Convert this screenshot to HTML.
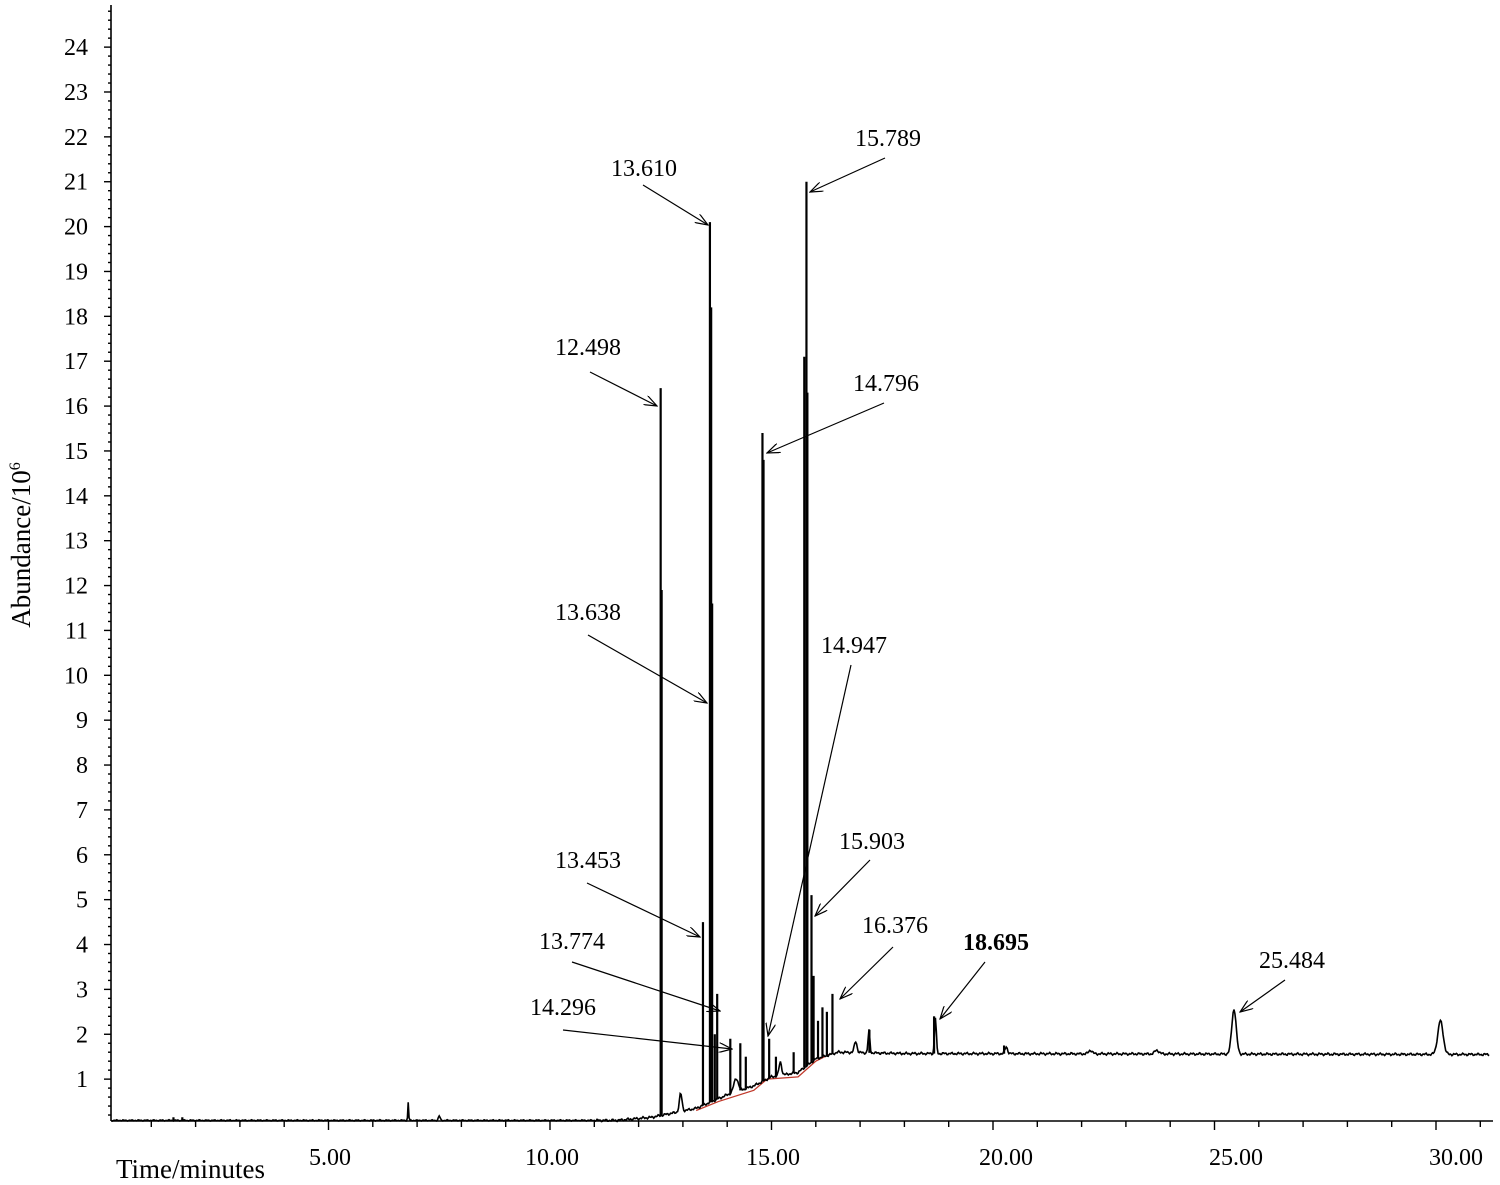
<!DOCTYPE html>
<html><head><meta charset="utf-8"><style>
html,body{margin:0;padding:0;background:#fff;}
svg{display:block;font-family:"Liberation Serif",serif;}
</style></head><body>
<svg id="s" width="1500" height="1185" viewBox="0 0 1500 1185" xmlns="http://www.w3.org/2000/svg">
<defs><marker id="a" markerWidth="14" markerHeight="10" refX="13" refY="5" orient="auto" markerUnits="userSpaceOnUse"><path d="M0,0 L13,5 L0,10" fill="none" stroke="#000" stroke-width="1.2"/></marker></defs>
<g id="axes" stroke="#000" stroke-width="1.6" fill="none">
<line x1="111" y1="5" x2="111" y2="1121"/>
<line x1="111" y1="1121" x2="1493" y2="1121"/>
</g>
<g id="ticks" stroke="#000" stroke-width="1.4"></g>
<g id="ylab" font-size="24" text-anchor="end"></g>
<g font-size="24" text-anchor="middle">
<text x="330" y="1165">5.00</text><text x="552" y="1165">10.00</text><text x="773" y="1165">15.00</text>
<text x="1006" y="1165">20.00</text><text x="1236" y="1165">25.00</text><text x="1456" y="1165">30.00</text>
</g>
<text x="116" y="1178" font-size="27">Time/minutes</text>
<text transform="translate(30,545) rotate(-90)" font-size="27" text-anchor="middle">Abundance/10<tspan font-size="16" dy="-10">6</tspan></text>
<path id="red" fill="none" stroke="#c0392b" stroke-width="1.3"/>
<path id="tr" fill="none" stroke="#000" stroke-width="1.6"/>
<g id="pk" stroke="#000" stroke-width="2.2"></g>
<g font-size="24" text-anchor="middle">
<text x="888" y="146">15.789</text><text x="644" y="176">13.610</text><text x="588" y="355">12.498</text>
<text x="886" y="391">14.796</text><text x="588" y="620">13.638</text><text x="854" y="653">14.947</text>
<text x="872" y="849">15.903</text><text x="588" y="868">13.453</text><text x="572" y="949">13.774</text>
<text x="895" y="933">16.376</text><text x="996" y="950" font-weight="bold">18.695</text><text x="563" y="1015">14.296</text>
<text x="1292" y="968">25.484</text>
</g>
<g stroke="#000" stroke-width="1.2" marker-end="url(#a)">
<line x1="885" y1="158" x2="810" y2="192"/><line x1="643" y1="185" x2="708" y2="225"/>
<line x1="590" y1="372" x2="657" y2="406"/><line x1="884" y1="403" x2="767" y2="453"/>
<line x1="588" y1="635" x2="707" y2="703"/><line x1="851" y1="665" x2="768" y2="1036"/>
<line x1="870" y1="860" x2="815" y2="916"/><line x1="587" y1="883" x2="700" y2="937"/>
<line x1="572" y1="962" x2="720" y2="1011"/><line x1="893" y1="947" x2="840" y2="999"/>
<line x1="985" y1="962" x2="940" y2="1019"/><line x1="563" y1="1030" x2="732" y2="1049"/>
<line x1="1285" y1="980" x2="1240" y2="1012"/>
</g>
</svg>
<script>
var NS="http://www.w3.org/2000/svg";
function X(t){return 107+44.3*t;}
function Y(v){return 1124-44.87*v;}
var tk=document.getElementById("ticks"),yl=document.getElementById("ylab");
function ln(p,x1,y1,x2,y2){var l=document.createElementNS(NS,"line");l.setAttribute("x1",x1);l.setAttribute("y1",y1);l.setAttribute("x2",x2);l.setAttribute("y2",y2);p.appendChild(l);}
for(var t=1;t<=31;t++){var x=X(t);ln(tk,x,1121,x,t%5==0?1130:1127);}
for(var v=1;v<=24;v++){var y=Y(v);ln(tk,104,y,111,y);var tx=document.createElementNS(NS,"text");tx.setAttribute("x",88);tx.setAttribute("y",y+8);tx.textContent=v;yl.appendChild(tx);}
for(var v=0.2;v<24.8;v+=0.2){if(Math.abs(v-Math.round(v))>0.05)ln(tk,108,Y(v),111,Y(v));}
function base(t){
 if(t<11.5)return 0.08;
 var pts=[[11.5,0.08],[12.3,0.15],[13.3,0.35],[14,0.65],[14.6,0.85],[15,1.05],[15.6,1.15],[16,1.45],[16.5,1.6],[18,1.57],[31,1.55]];
 for(var i=0;i<pts.length-1;i++){if(t<=pts[i+1][0]){var f=(t-pts[i][0])/(pts[i+1][0]-pts[i][0]);return pts[i][1]+f*(pts[i+1][1]-pts[i][1]);}}
 return 1.55;}
var wide=[[25.44,1.0,0.05],[30.1,0.75,0.06],[6.8,0.4,0.01],[7.5,0.1,0.02],[12.95,0.4,0.03],[14.2,0.3,0.05],[15.2,0.3,0.03],[16.9,0.25,0.03],[17.2,0.5,0.02],[18.7,0.8,0.02],[20.3,0.15,0.03],[22.2,0.08,0.04],[23.7,0.08,0.05]];
var d="";
for(var t=0.1;t<=31.2;t+=0.02){var v=base(t);for(var k=0;k<wide.length;k++){var w=wide[k];v+=w[1]*Math.exp(-Math.pow((t-w[0])/w[2],2)/2);}
 v+=(Math.sin(t*37)*0.5+Math.sin(t*91)*0.5)*0.015*(t>11?2:1);
 d+=(d?"L":"M")+X(t).toFixed(1)+","+Y(v).toFixed(1);}
document.getElementById("tr").setAttribute("d",d);
var sharp=[[12.498,16.4],[12.52,11.9],[13.453,4.5],[13.61,20.1],[13.638,18.2],[13.66,11.6],[13.774,2.9],[13.72,2.0],[14.07,1.9],[14.296,1.8],[14.42,1.5],[14.796,15.4],[14.82,14.8],[14.947,1.9],[15.1,1.5],[15.5,1.6],[15.74,17.1],[15.789,21.0],[15.81,16.3],[15.903,5.1],[15.95,3.3],[16.05,2.3],[16.15,2.6],[16.25,2.5],[16.376,2.9],[17.21,2.1],[18.67,2.4],[20.25,1.75],[1.5,0.15],[1.7,0.15]];
var pk=document.getElementById("pk");
sharp.forEach(function(p){var x=X(p[0]);ln(pk,x,Y(base(p[0])),x,Y(p[1]));});
var r="";[[13.3,0.3],[13.8,0.5],[14.6,0.75],[14.9,1.0],[15.6,1.05],[16.0,1.4],[16.3,1.55]].forEach(function(p,i){r+=(i?"L":"M")+X(p[0])+","+Y(p[1]);});
document.getElementById("red").setAttribute("d",r);
</script>
</body></html>
